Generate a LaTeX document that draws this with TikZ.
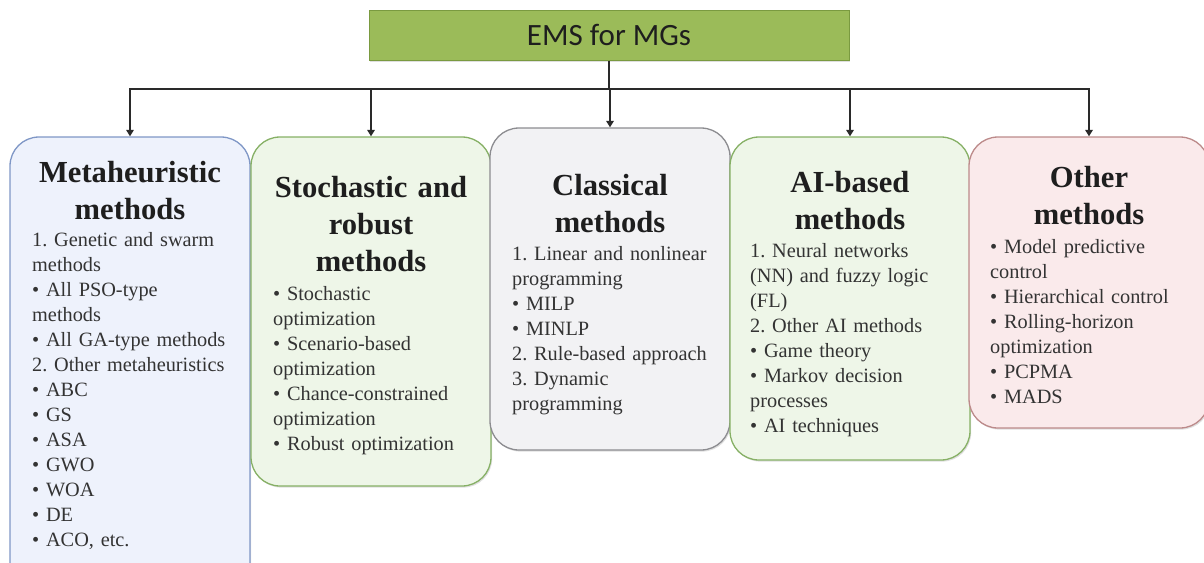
\documentclass[tikz,border=0pt]{standalone}
\usepackage{fontspec}
\setmainfont{Liberation Serif}
\newfontfamily\listfont{Liberation Serif}
\newfontfamily\headfont{Carlito}
\usetikzlibrary{arrows.meta,shadows}
\frenchspacing

\definecolor{rootfill}{HTML}{9BBB59}
\definecolor{rootline}{HTML}{7A9A40}
\definecolor{bluefill}{HTML}{EEF2FC}
\definecolor{blueline}{HTML}{7F97C6}
\definecolor{greenfill}{HTML}{EEF6E8}
\definecolor{greenline}{HTML}{86B065}
\definecolor{grayfill}{HTML}{F2F2F4}
\definecolor{grayline}{HTML}{8C8C90}
\definecolor{pinkfill}{HTML}{FAEAEB}
\definecolor{pinkline}{HTML}{BC8A8A}
\definecolor{titletext}{HTML}{1E1E1E}
\definecolor{bodytext}{HTML}{333333}
\definecolor{linkcolor}{HTML}{2A2A2A}

\begin{document}
\begin{tikzpicture}[x=1pt,y=-1pt,
  softshadow/.style={drop shadow={opacity=0.25,shadow xshift=1.2pt,shadow yshift=-1.6pt}},
  rootbox/.style={draw=rootline,fill=rootfill,line width=1pt,minimum width=480pt,minimum height=50pt,
    inner sep=0pt,softshadow,font=\headfont\fontsize{31}{36}\selectfont,text=titletext},
  methodbox/.style={rounded corners=29pt,line width=1.3pt,minimum width=240pt,inner sep=0pt,softshadow},
  titletxt/.style={anchor=base,inner sep=0pt,text width=236pt,align=center,
    font=\listfont\fontsize{30.6}{37}\selectfont\bfseries,text=titletext},
  bodytxt/.style={anchor=base west,inner sep=0pt,text width=216pt,align=left,
    font=\listfont\fontsize{20.3}{25}\selectfont,text=bodytext},
  link/.style={line width=1.8pt,draw=linkcolor},
  arrowlink/.style={link,-{Triangle[length=6.5pt,width=7.5pt]}}
]
\useasboundingbox (0,0) rectangle (1204,562);

% root
\node[rootbox] (root) at (609,35) {EMS for MGs};

% category boxes
\node[methodbox,draw=blueline,fill=bluefill,minimum height=463pt] (b1) at (130,368.5) {};
\node[methodbox,draw=greenline,fill=greenfill,minimum height=349pt] (b2) at (371,311.5) {};
\node[methodbox,draw=grayline,fill=grayfill,minimum height=322pt] (b3) at (610,289) {};
\node[methodbox,draw=greenline,fill=greenfill,minimum height=323pt] (b4) at (850,298.5) {};
\node[methodbox,draw=pinkline,fill=pinkfill,minimum height=291pt] (b5) at (1089,282.5) {};

% headings
\node[titletxt] (h1) at (130,182) {Metaheuristic\\methods};
\node[titletxt] (h2) at (371,197) {Stochastic and\\robust\\methods};
\node[titletxt] (h3) at (610,195) {Classical\\methods};
\node[titletxt] (h4) at (850,192) {AI-based\\methods};
\node[titletxt] (h5) at (1089,187) {Other\\methods};

% lists
\node[bodytxt] (l1) at (32,246) {1. Genetic and swarm\\methods\\\textbullet{} All PSO-type\\methods\\\textbullet{} All GA-type methods\\2. Other metaheuristics\\\textbullet{} ABC\\\textbullet{} GS\\\textbullet{} ASA\\\textbullet{} GWO\\\textbullet{} WOA\\\textbullet{} DE\\\textbullet{} ACO, etc.};
\node[bodytxt] (l2) at (273,300) {\textbullet{} Stochastic\\optimization\\\textbullet{} Scenario-based\\optimization\\\textbullet{} Chance-constrained\\optimization\\\textbullet{} Robust optimization};
\node[bodytxt] (l3) at (512,260) {1. Linear and nonlinear\\programming\\\textbullet{} MILP\\\textbullet{} MINLP\\2. Rule-based approach\\3. Dynamic\\programming};
\node[bodytxt] (l4) at (750,257) {1. Neural networks\\(NN) and fuzzy logic\\(FL)\\2. Other AI methods\\\textbullet{} Game theory\\\textbullet{} Markov decision\\processes\\\textbullet{} AI techniques};
\node[bodytxt] (l5) at (990,253) {\textbullet{} Model predictive\\control\\\textbullet{} Hierarchical control\\\textbullet{} Rolling-horizon\\optimization\\\textbullet{} PCPMA\\\textbullet{} MADS};

% connectors
\coordinate (bus) at (609,89);
\draw[link] (root.south) -- (bus);
\foreach \b in {b1,b2,b3,b4,b5}
  \draw[arrowlink] (bus) -| (\b.north);
\end{tikzpicture}
\end{document}
